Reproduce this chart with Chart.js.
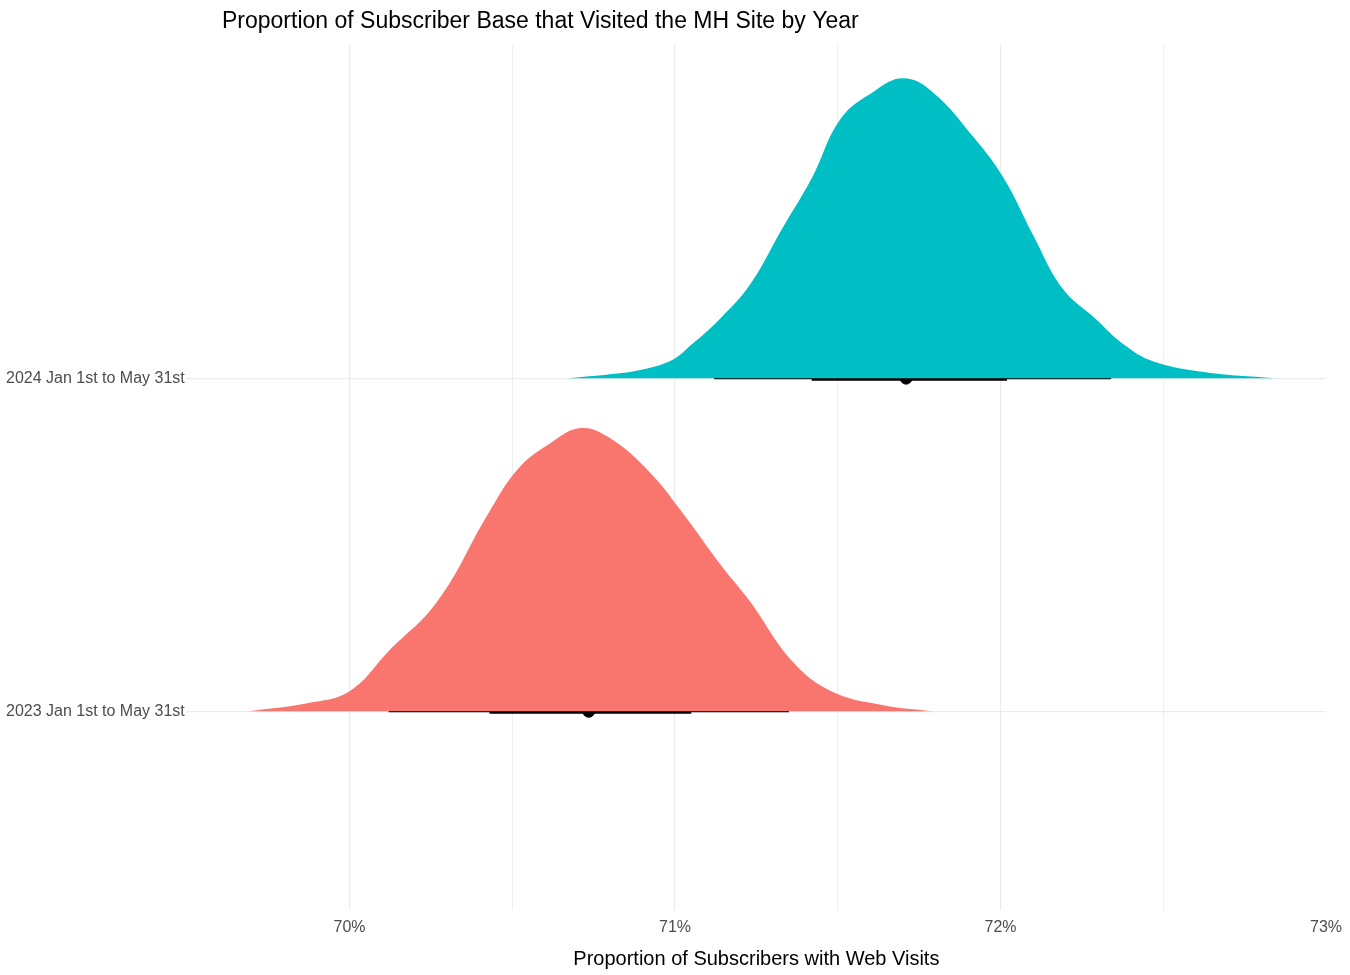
<!DOCTYPE html>
<html>
<head>
<meta charset="utf-8">
<script src="https://cdn.jsdelivr.net/npm/chart.js@4"></script>
<style>
  html, body { margin: 0; padding: 0; background: #fff; }
  #wrap { width: 1350px; height: 975px; }
</style>
</head>
<body>
<div id="wrap"><canvas id="chart"></canvas></div>
<script>
// Categories (y positions 1 and 2)
const categories = ['2023 Jan 1st to May 31st', '2024 Jan 1st to May 31st'];

// Density outlines (x in %, height relative to slot)
const x2024 = [70.67, 70.80, 70.89, 70.99, 71.05, 71.14, 71.23, 71.33, 71.42, 71.51, 71.61, 71.70, 71.79, 71.92, 72.01, 72.10, 72.19, 72.29, 72.38, 72.47, 72.63, 72.84];
const d2024 = [0.00, 0.012, 0.024, 0.054, 0.10, 0.18, 0.28, 0.45, 0.60, 0.78, 0.86, 0.90, 0.86, 0.72, 0.60, 0.43, 0.27, 0.18, 0.10, 0.05, 0.018, 0.00];
const x2023 = [69.69, 69.87, 70.00, 70.12, 70.27, 70.43, 70.52, 70.61, 70.71, 70.80, 70.92, 71.02, 71.14, 71.23, 71.36, 71.48, 71.64, 71.79];
const d2023 = [0.00, 0.024, 0.06, 0.18, 0.33, 0.60, 0.73, 0.80, 0.85, 0.82, 0.72, 0.60, 0.44, 0.33, 0.15, 0.06, 0.018, 0.00];

// Point + intervals: [median, thick lo, thick hi, thin lo, thin hi]
const interval2024 = [71.71, 71.42, 72.02, 71.12, 72.34];
const interval2023 = [70.735, 70.43, 71.05, 70.12, 71.35];

const xTicks = [69.5, 70, 70.5, 71, 71.5, 72, 72.5, 73];

function densityDataset(xs, ds, base, color) {
    return {
        type: 'line',
        data: xs.map((x, i) => ({ x: x, y: base + ds[i] })),
        borderWidth: 0,
        borderColor: color,
        backgroundColor: color,
        pointRadius: 0,
        tension: 0.4,
        fill: { value: base }
    };
}

function lineDataset(lo, hi, base, width) {
    return {
        type: 'line',
        data: [{ x: lo, y: base }, { x: hi, y: base }],
        borderColor: '#000',
        borderWidth: width,
        pointRadius: 0,
        fill: false
    };
}

function pointDataset(x, base) {
    return {
        type: 'scatter',
        data: [{ x: x, y: base }],
        backgroundColor: '#000',
        borderColor: '#000',
        pointRadius: 6
    };
}

const titlePlugin = {
    id: 'titleText',
    afterDraw(chart) {
        const ctx = chart.ctx;
        ctx.save();
        ctx.fillStyle = '#000';
        ctx.font = '23px Arial, "Liberation Sans", sans-serif';
        ctx.textBaseline = 'middle';
        ctx.fillText('Proportion of Subscriber Base that Visited the MH Site by Year', 222, 22);
        ctx.restore();
    }
};

new Chart(document.getElementById('chart'), {
    data: {
        datasets: [
            densityDataset(x2024, d2024, 2, '#00BFC4'),
            densityDataset(x2023, d2023, 1, '#F8766D'),
            lineDataset(interval2024[3], interval2024[4], 2, 2),
            lineDataset(interval2024[1], interval2024[2], 2, 5),
            pointDataset(interval2024[0], 2),
            lineDataset(interval2023[3], interval2023[4], 1, 2),
            lineDataset(interval2023[1], interval2023[2], 1, 5),
            pointDataset(interval2023[0], 1)
        ]
    },
    options: {
        responsive: true,
        maintainAspectRatio: false,
        animation: false,
        layout: { padding: { top: 45, right: 10, left: 4, bottom: 4 } },
        plugins: {
            legend: { display: false },
            tooltip: { enabled: false }
        },
        scales: {
            x: {
                type: 'linear',
                min: 69.5,
                max: 73,
                afterBuildTicks: axis => { axis.ticks = xTicks.map(v => ({ value: v })); },
                border: { display: false },
                grid: {
                    color: c => (c.tick.value === 69.5 || c.tick.value === 73) ? 'rgba(0,0,0,0)' : '#ebebeb',
                    lineWidth: c => Number.isInteger(c.tick.value) ? 1.2 : 0.8,
                    drawTicks: false
                },
                ticks: {
                    padding: 8,
                    color: '#4d4d4d',
                    font: { size: 16, family: 'Arial, "Liberation Sans", sans-serif' },
                    callback: v => Number.isInteger(v) ? v + '%' : ''
                },
                title: {
                    display: true,
                    text: 'Proportion of Subscribers with Web Visits',
                    color: '#000',
                    font: { size: 20, family: 'Arial, "Liberation Sans", sans-serif' },
                    padding: { top: 2, bottom: 0 }
                }
            },
            y: {
                type: 'linear',
                min: 0.404,
                max: 3.0,
                afterBuildTicks: axis => { axis.ticks = [{ value: 1 }, { value: 2 }]; },
                border: { display: false },
                grid: { color: '#ebebeb', lineWidth: 1.2, drawTicks: false },
                ticks: {
                    padding: 2,
                    color: '#4d4d4d',
                    font: { size: 16, family: 'Arial, "Liberation Sans", sans-serif' },
                    callback: v => categories[v - 1]
                }
            }
        }
    },
    plugins: [titlePlugin]
});
</script>
</body>
</html>
